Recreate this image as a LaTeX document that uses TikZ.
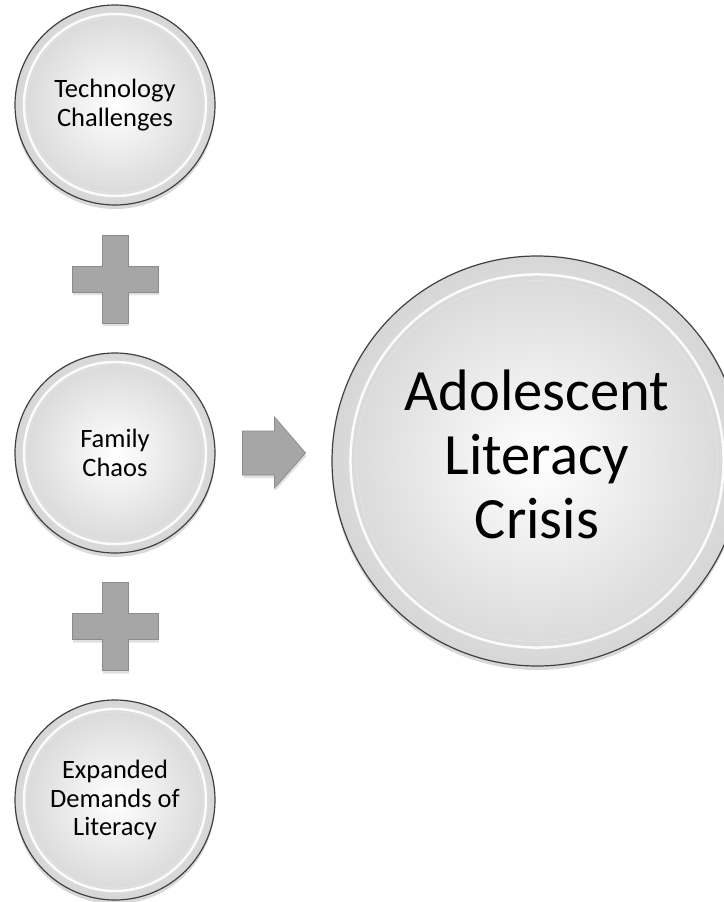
\documentclass[tikz,border=0pt]{standalone}
\usepackage{fontspec}
\setmainfont{Carlito}
\usetikzlibrary{calc,shadows}

\tikzset{
	bubble/.style={circle, draw=black!75, line width=1.2pt, inner color=white, outer color=black!16,
		minimum size=#1, inner sep=0pt, align=center,
		drop shadow={shadow xshift=0pt, shadow yshift=-4pt, opacity=0.25, fill=black!60},
		path picture={\draw[white, line width=2.5pt, opacity=0.9] (path picture bounding box.center) circle (0.455*#1);
			\draw[black!10, line width=0.6pt] (path picture bounding box.center) circle (0.44*#1);}},
	smalltext/.style={font=\fontsize{26.5}{28.5}\selectfont},
	bigtext/.style={font=\fontsize{58.5}{64}\selectfont, text depth=13pt},
	blockshape/.style={fill=black!35, draw=black!45, line width=0.8pt,
		drop shadow={shadow xshift=1pt, shadow yshift=-3pt, opacity=0.2, fill=black!60}}
}

\begin{document}
\begin{tikzpicture}[x=1pt,y=-1pt]
			\useasboundingbox (0,0) rectangle (723,902);
			\node[bubble=200pt, smalltext] (tech) at (115,105) {Technology\\Challenges};
			\node[bubble=200pt, smalltext] (fam) at (115,453) {Family\\Chaos};
			\node[bubble=200pt, smalltext] (exp) at (115,800) {Expanded\\Demands of\\Literacy};
			\node[bubble=410pt, bigtext] (crisis) at (537,461) {Adolescent\\Literacy\\Crisis};
			
			\coordinate (plus1) at ($(tech.south)!0.5!(fam.north)$);
			\coordinate (plus2) at ($(fam.south)!0.5!(exp.north)$);
			\coordinate (arr) at ($(fam.east)!0.5!(crisis.west |- fam.east)$);
			
			\foreach \p in {plus1,plus2} {\draw[blockshape, shift={(\p)}] (-13,-44) -- (13,-44) -- (13,-13) -- (43,-13) -- (43,13) -- (13,13) -- (13,44) -- (-13,44) -- (-13,13) -- (-43,13) -- (-43,-13) -- (-13,-13) -- cycle;}
			\draw[blockshape, shift={(arr)}] (-31,-22) -- (1,-22) -- (1,-36) -- (32,0) -- (1,35) -- (1,22) -- (-31,22) -- cycle;
		\end{tikzpicture}
\end{document}
